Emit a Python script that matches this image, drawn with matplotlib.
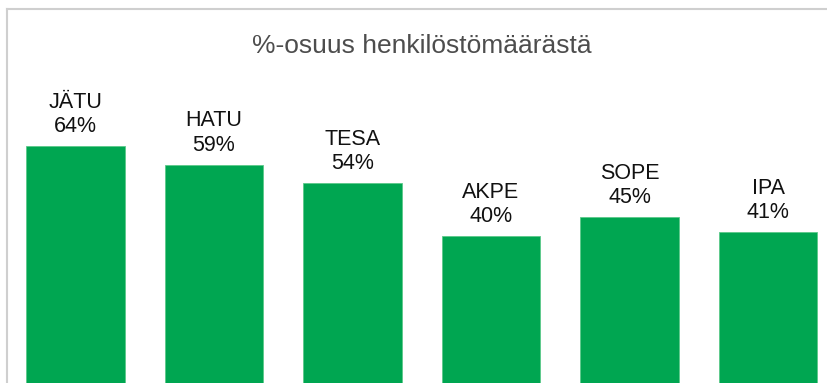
import matplotlib.pyplot as plt
from matplotlib.lines import Line2D

plt.rcParams['font.family'] = ['Liberation Sans', 'DejaVu Sans']

units = ['JÄTU', 'HATU', 'TESA', 'AKPE', 'SOPE', 'IPA']
shares = [64, 59, 54, 40, 45, 41]
title = '%-osuus henkilöstömäärästä'

W, H = 827, 383
fig = plt.figure(figsize=(W / 100, H / 100), dpi=100)

# axes fill the figure; bars run off the bottom edge like a cropped Excel chart
ax = fig.add_axes([0, 0, 1, 1])
px_per_unit = 138.5
first_center = 75.5
ax.set_xlim(-first_center / px_per_unit, (W - first_center) / px_per_unit)
px_per_pct = 3.765
zero_y = 386.7
ax.set_ylim((zero_y - H) / px_per_pct, zero_y / px_per_pct)
ax.axis('off')

x = list(range(len(units)))
ax.bar(x, shares, width=0.708, color='#00a651', edgecolor='#5cc98a', linewidth=0.6)

for xi, name, val in zip(x, units, shares):
    ax.annotate(f'{name}\n{val}%', (xi, val), xytext=(0, 6.5), textcoords='offset points',
                ha='center', va='bottom', fontsize=15.5, color='#111111', linespacing=1.2)

# chart frame (only top and left edges are inside the image)
frame = dict(color='#cfcfcf', linewidth=1.5, transform=fig.transFigure)
fig.add_artist(Line2D([6.5 / W, 1], [1 - 8.5 / H, 1 - 8.5 / H], **frame))
fig.add_artist(Line2D([6.5 / W, 6.5 / W], [0, 1 - 8.5 / H], **frame))

fig.text(422 / W, 1 - 53 / H, title, ha='center', va='baseline',
         fontsize=19, color='#4d4d4d')

fig.savefig('out.png', dpi=100)
